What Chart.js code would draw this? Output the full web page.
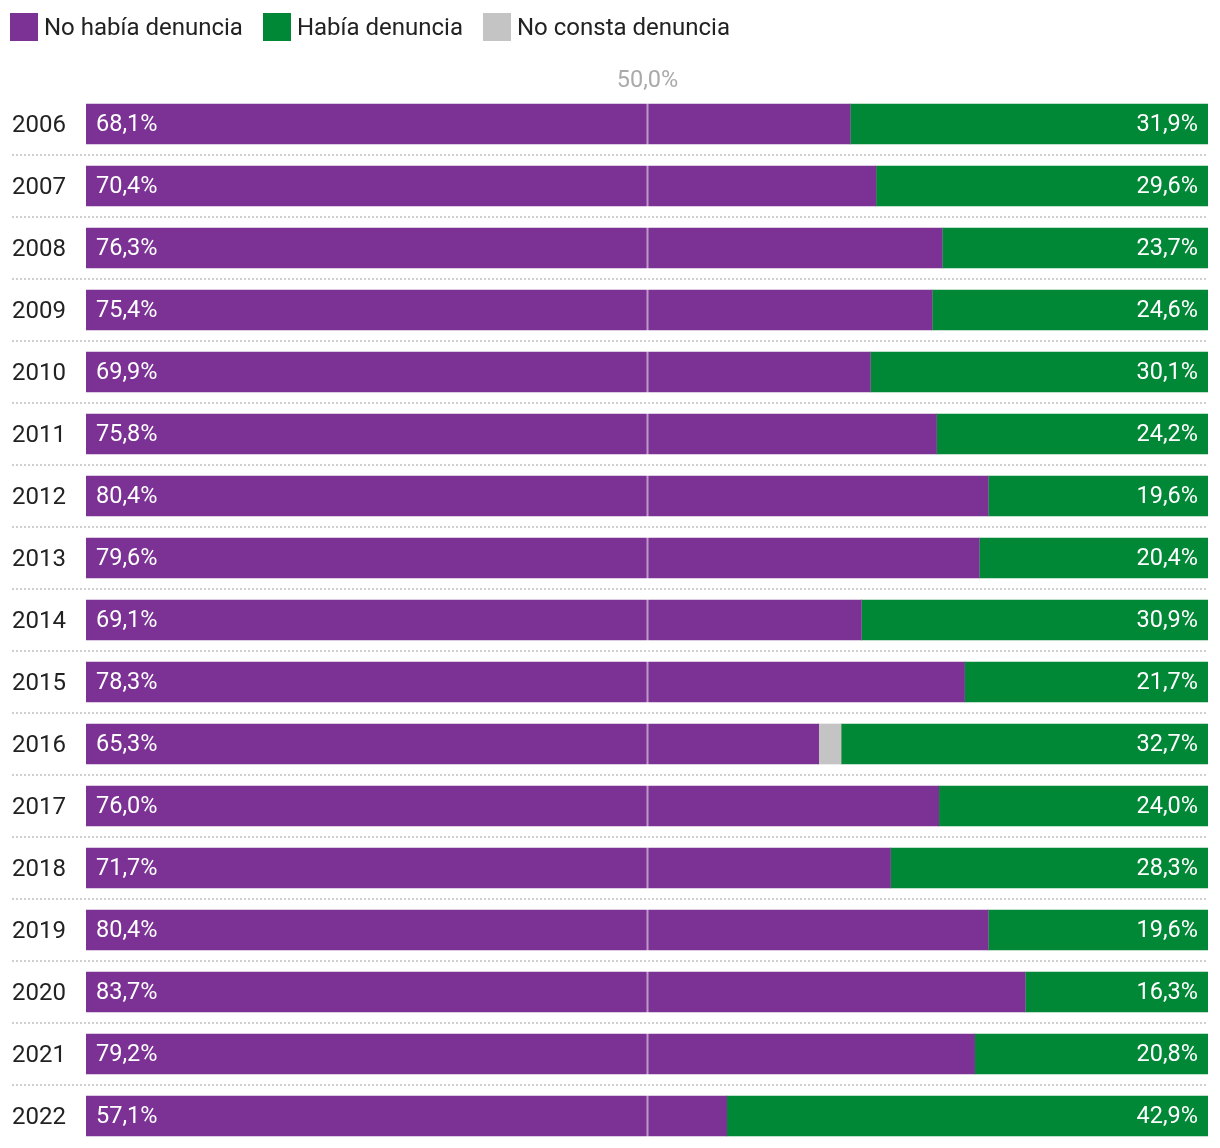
<!DOCTYPE html>
<html>
<head>
<meta charset="utf-8">
<script src="https://cdn.jsdelivr.net/npm/chart.js@4"></script>
<style>
  body { margin: 0; background: #fff; font-family: Roboto, sans-serif; }
  #wrap { position: relative; width: 1220px; height: 1148px; }
  canvas { display: block; }
  #legend { position: absolute; left: 10px; top: 13px; display: flex; align-items: center; font-size: 24px; color: #222; }
  #legend span.box { width: 28px; height: 28px; display: inline-block; margin-right: 6px; }
  #legend .item { display: flex; align-items: center; margin-right: 20px; }
</style>
</head>
<body>
<div id="wrap">
  <canvas id="canvas" width="1220" height="1148"></canvas>
  <div id="legend"></div>
</div>
<script>
const years = ['2006', '2007', '2008', '2009', '2010', '2011', '2012', '2013', '2014', '2015', '2016', '2017', '2018', '2019', '2020', '2021', '2022'];
const noHabia = [68.1, 70.4, 76.3, 75.4, 69.9, 75.8, 80.4, 79.6, 69.1, 78.3, 65.3, 76.0, 71.7, 80.4, 83.7, 79.2, 57.1];
const habia = [31.9, 29.6, 23.7, 24.6, 30.1, 24.2, 19.6, 20.4, 30.9, 21.7, 32.7, 24.0, 28.3, 19.6, 16.3, 20.8, 42.9];
const noConsta = [0, 0, 0, 0, 0, 0, 0, 0, 0, 0, 2.0, 0, 0, 0, 0, 0, 0];
const xTicks = [50];

const PURPLE = '#7b3294';
const GREEN = '#008837';
const GREY = '#c4c4c4';

const fmt = v => v.toFixed(1).replace('.', ',') + '%';

// legend in html
const legendItems = [['No había denuncia', PURPLE], ['Había denuncia', GREEN], ['No consta denuncia', GREY]];
document.getElementById('legend').innerHTML = legendItems.map(([t, c]) =>
  '<div class="item"><span class="box" style="background:' + c + '"></span>' + t + '</div>').join('');

const separators = {
  id: 'separators',
  beforeDatasetsDraw(chart) {
    const c = chart.ctx, y = chart.scales.y;
    c.save();
    c.strokeStyle = '#cfcfcf';
    c.lineWidth = 2;
    c.setLineDash([2, 2]);
    for (let i = 0; i < years.length - 1; i++) {
      const py = Math.round((y.getPixelForValue(i) + y.getPixelForValue(i + 1)) / 2);
      c.beginPath();
      c.moveTo(12, py);
      c.lineTo(chart.chartArea.right, py);
      c.stroke();
    }
    c.restore();
  }
};

const overlay = {
  id: 'overlay',
  afterDatasetsDraw(chart) {
    const c = chart.ctx, x = chart.scales.x;
    c.save();
    // 50% line over bars + its label
    xTicks.forEach(t => {
      const px = Math.round(x.getPixelForValue(t)) + 0.5;
      c.strokeStyle = 'rgba(255,255,255,0.5)';
      c.lineWidth = 2;
      c.beginPath();
      c.moveTo(px, chart.chartArea.top);
      c.lineTo(px, chart.chartArea.bottom);
      c.stroke();
      c.font = '23.5px Roboto';
      c.fillStyle = '#aaaaaa';
      c.textAlign = 'center';
      c.textBaseline = 'middle';
      c.fillText(fmt(t), px, chart.chartArea.top - 12);
    });
    // value labels
    c.font = '23.5px Roboto';
    c.fillStyle = '#fff';
    c.textBaseline = 'middle';
    const m0 = chart.getDatasetMeta(0), m2 = chart.getDatasetMeta(2);
    m0.data.forEach((bar, i) => {
      c.textAlign = 'left';
      c.fillText(fmt(noHabia[i]), bar.base + 10, bar.y + 1);
    });
    m2.data.forEach((bar, i) => {
      c.textAlign = 'right';
      c.fillText(fmt(habia[i]), bar.x - 10, bar.y + 1);
    });
    c.restore();
  }
};

new Chart(document.getElementById('canvas'), {
  type: 'bar',
  data: {
    labels: years,
    datasets: [
      { label: 'No había denuncia', data: noHabia, backgroundColor: PURPLE },
      { label: 'No consta denuncia', data: noConsta, backgroundColor: GREY },
      { label: 'Había denuncia', data: habia, backgroundColor: GREEN }
    ]
  },
  options: {
    indexAxis: 'y',
    responsive: false,
    animation: false,
    barThickness: 40,
    layout: { autoPadding: false, padding: { top: 93, left: 12, right: 12, bottom: 1 } },
    plugins: { legend: { display: false }, tooltip: { enabled: false } },
    scales: {
      x: {
        stacked: true, display: false, min: 0, max: 100
      },
      y: {
        stacked: true,
        grid: { display: false }, border: { display: false },
        afterFit: s => { s.width = 74; s.paddingTop = 0; s.paddingBottom = 0; },
        ticks: { crossAlign: 'far', color: '#222', font: { family: 'Roboto', size: 24 }, padding: 0, labelOffset: 2 }
      }
    }
  },
  plugins: [separators, overlay]
});
</script>
</body>
</html>
